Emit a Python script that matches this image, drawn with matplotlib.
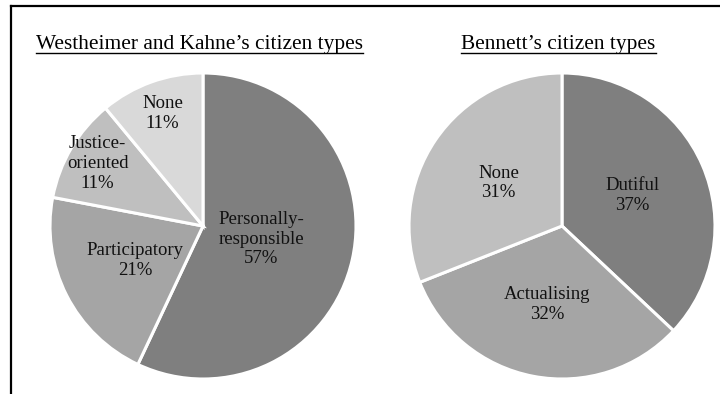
import matplotlib
matplotlib.use("Agg")
import matplotlib.pyplot as plt
import numpy as np
from matplotlib.lines import Line2D

plt.rcParams['font.family'] = ['Liberation Serif', 'DejaVu Serif']

#----------------------DATA------------------------
wk_labels = ["Personally-\nresponsible", "Participatory", "Justice-\noriented", "None"]
wk_values = [57, 21, 11, 11]
bennett_labels = ["Dutiful", "Actualising", "None"]
bennett_values = [37, 32, 31]

wk_colors = ["#7f7f7f", "#a5a5a5", "#bfbfbf", "#d9d9d9"]
bennett_colors = ["#7f7f7f", "#a5a5a5", "#bfbfbf"]
# how far out from the centre each label sits (fraction of radius)
wk_label_r = [0.39, 0.50, 0.80, 0.78]
bennett_label_r = [0.50, 0.52, 0.50]

W, H = 720, 394
fig = plt.figure(figsize=(W / 100, H / 100), dpi=100)


def draw_pie(cx, cy, r, values, labels, colors, label_r):
    ax = fig.add_axes([(cx - r) / W, (H - cy - r) / H, 2 * r / W, 2 * r / H])
    wedges, _ = ax.pie(values, colors=colors, startangle=90, counterclock=False,
                       wedgeprops=dict(edgecolor="white", linewidth=2.2))
    for w in wedges:
        w.set_clip_on(False)
    total = float(sum(values))
    for w, lab, v, d in zip(wedges, labels, values, label_r):
        mid = np.deg2rad((w.theta1 + w.theta2) / 2)
        ax.text(d * np.cos(mid), d * np.sin(mid),
                "%s\n%d%%" % (lab, round(100 * v / total)),
                ha="center", va="center", fontsize=13.5, color="#111111",
                linespacing=1.22)
    ax.set_xlim(-1, 1)
    ax.set_ylim(-1, 1)
    return ax


draw_pie(203, 226, 153, wk_values, wk_labels, wk_colors, wk_label_r)
draw_pie(562, 226, 153, bennett_values, bennett_labels, bennett_colors, bennett_label_r)

# titles with underline
titles = [("Westheimer and Kahne\u2019s citizen types", 199.5),
          ("Bennett\u2019s citizen types", 558.5)]
fig.canvas.draw()
renderer = fig.canvas.get_renderer()
for txt, x in titles:
    t = fig.text(x / W, 1 - 49 / H, txt, ha="center", va="baseline",
                 fontsize=15.4, color="black")
    bb = t.get_window_extent(renderer)
    uy = 1 - 52.5 / H
    fig.add_artist(Line2D([bb.x0 / W, bb.x1 / W], [uy, uy], color="black", lw=1.0))

# outer frame (top and left edges)
fig.add_artist(Line2D([10.5 / W, 1.0], [1 - 5.5 / H, 1 - 5.5 / H], color="black", lw=1.6))
fig.add_artist(Line2D([10.5 / W, 10.5 / W], [0, 1 - 5.5 / H], color="black", lw=1.6))

fig.savefig("out.png", dpi=100)
